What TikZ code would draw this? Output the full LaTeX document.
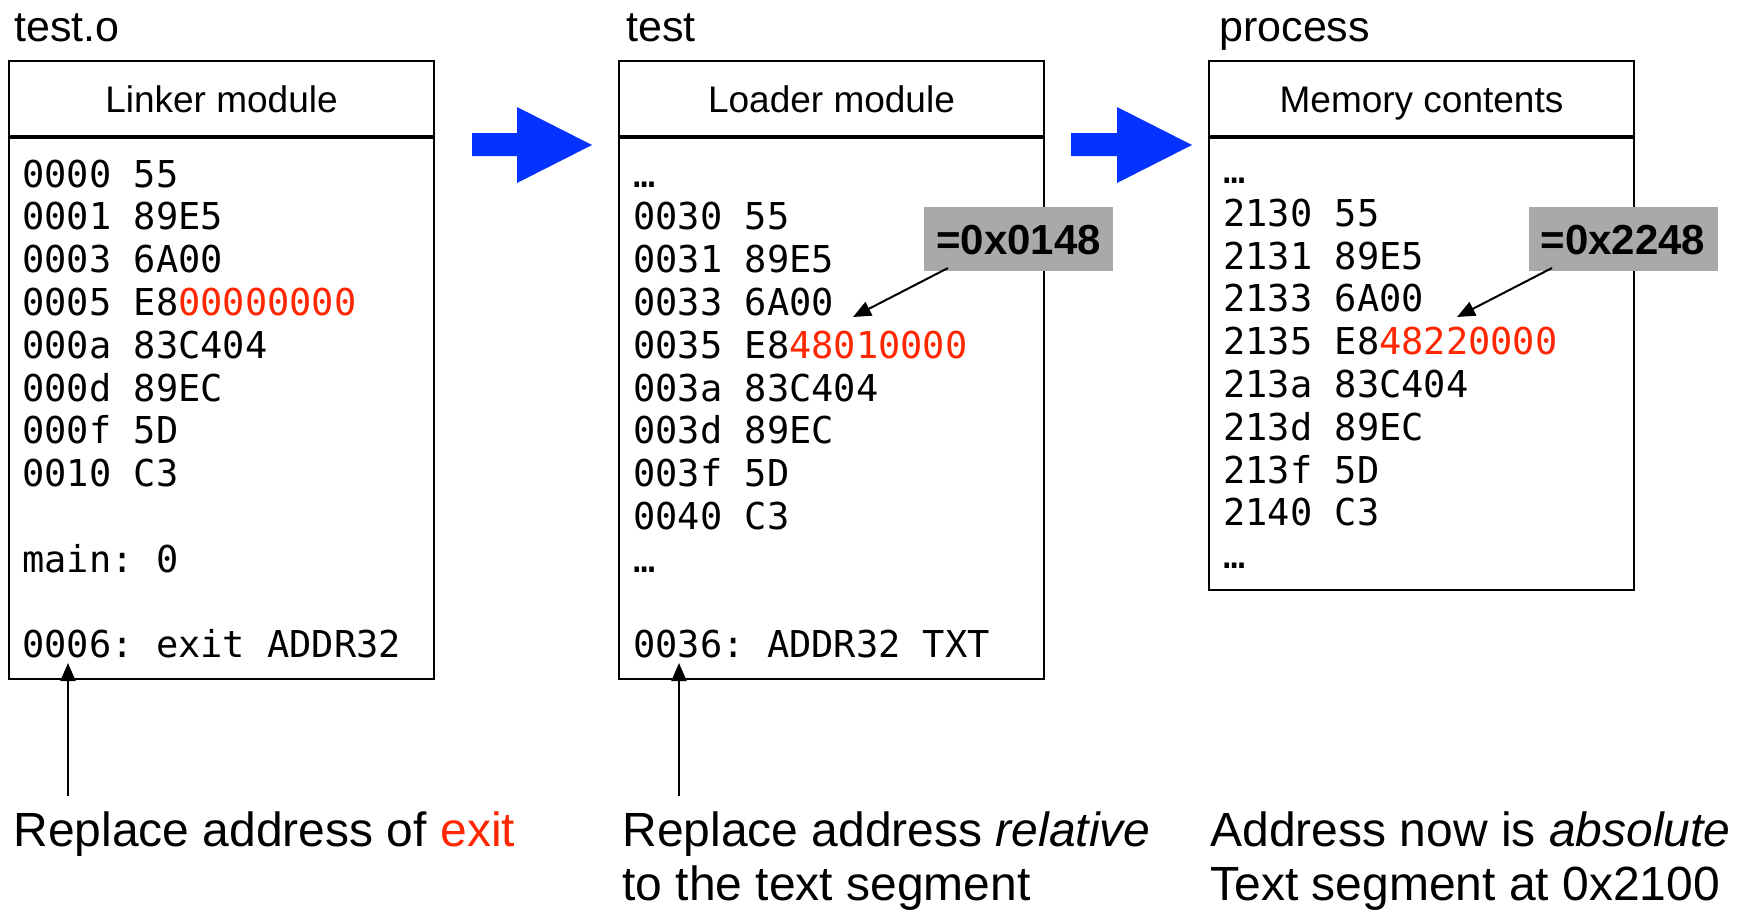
\documentclass[tikz,border=0pt]{standalone}
\usepackage{fontspec}
\setmainfont{Liberation Sans}
\setmonofont{DejaVu Sans Mono}
\usetikzlibrary{arrows.meta}
\definecolor{hotred}{RGB}{255,38,0}
\definecolor{flowblue}{RGB}{4,51,255}
\definecolor{tagGray}{RGB}{169,169,169}

\begin{document}
\begin{tikzpicture}[x=0.5pt,y=-0.5pt,
  title/.style={anchor=base west, inner sep=0pt, font=\fontsize{21.5}{25}\selectfont},
  hdr/.style={draw, line width=1.25pt, outer sep=0pt, minimum width=212.5pt, minimum height=38pt,
    inner sep=0pt, text height=13.25pt, text depth=0pt, font=\fontsize{18.5}{22}\selectfont},
  body/.style={draw, line width=1.25pt, outer sep=0pt, minimum width=212.5pt, anchor=north, inner sep=0pt},
  sep/.style={line width=2.4pt},
  code/.style={anchor=base west, inner sep=0pt, font=\ttfamily\fontsize{18.5}{21.5}\selectfont},
  tag/.style={fill=tagGray, minimum width=94.5pt, minimum height=32pt, inner sep=0pt,
    text height=15pt, text depth=0pt, font=\bfseries\fontsize{21}{25}\selectfont},
  note/.style={anchor=base west, inner sep=0pt, font=\fontsize{24}{28}\selectfont},
  pointer/.style={line width=1pt, -{Triangle[length=9pt,width=7.5pt]}},
  fatarrow/.style={fill=flowblue}]
\useasboundingbox (0,0) rectangle (1742,910);

% column titles
\node[title] (t1) at (14,41) {test.o};
\node[title] (t2) at (626,41) {test};
\node[title] (t3) at (1219,41) {process};

% linker module
\node[hdr] (lkh) at (221.5,99) {Linker module};
\node[body, minimum height=271pt] (lkb) at (lkh.south) {};
\draw[sep] (lkh.south west) -- (lkh.south east);

% loader module
\node[hdr] (ldh) at (831.5,99) {Loader module};
\node[body, minimum height=271pt] (ldb) at (ldh.south) {};
\draw[sep] (ldh.south west) -- (ldh.south east);

% memory contents
\node[hdr] (mmh) at (1421.5,99) {Memory contents};
\node[body, minimum height=226.5pt] (mmb) at (mmh.south) {};
\draw[sep] (mmh.south west) -- (mmh.south east);

% code listings
\foreach \i/\txt in {0/{0000 55}, 1/{0001 89E5}, 2/{0003 6A00},
    3/{0005 E8\textcolor{hotred}{00000000}}, 4/{000a 83C404}, 5/{000d 89EC},
    6/{000f 5D}, 7/{0010 C3}, 9/{main: 0}, 11/{0006: exit ADDR32}}
  \node[code] (lk\i) at (22,187+42.8*\i) {\txt};

\foreach \i/\txt in {0/{…}, 1/{0030 55}, 2/{0031 89E5}, 3/{0033 6A00},
    4/{0035 E8\textcolor{hotred}{48010000}}, 5/{003a 83C404}, 6/{003d 89EC},
    7/{003f 5D}, 8/{0040 C3}, 9/{…}, 11/{0036: ADDR32 TXT}}
  \node[code] (ld\i) at (633,187+42.8*\i) {\txt};

\foreach \i/\txt in {0/{…}, 1/{2130 55}, 2/{2131 89E5}, 3/{2133 6A00},
    4/{2135 E8\textcolor{hotred}{48220000}}, 5/{213a 83C404}, 6/{213d 89EC},
    7/{213f 5D}, 8/{2140 C3}, 9/{…}}
  \node[code] (mm\i) at (1223,183.5+42.8*\i) {\txt};

% blue flow arrows
\fill[fatarrow] (472,133) -- (517,133) -- (517,107) -- (592,145) -- (517,183) -- (517,156) -- (472,156) -- cycle;
\fill[fatarrow] (1071,133) -- (1117,133) -- (1117,107) -- (1192,145) -- (1117,183) -- (1117,156) -- (1071,156) -- cycle;

% resolved offsets
\node[tag] (tag1) at (1018.5,239) {=0x0148};
\node[tag] (tag2) at (1623,239) {=0x2248};
\coordinate (c1s) at (948,268);
\coordinate (c1e) at (853,317);
\coordinate (c2s) at (1552,268);
\coordinate (c2e) at (1457,317);
\draw[pointer] (c1s) -- (c1e);
\draw[pointer] (c2s) -- (c2e);

% pointers to relocation entries
\coordinate (v1b) at (68,796);
\coordinate (v1t) at (68,663);
\coordinate (v2b) at (679,796);
\coordinate (v2t) at (679,663);
\draw[pointer] (v1b) -- (v1t);
\draw[pointer] (v2b) -- (v2t);

% notes
\node[note] (n1) at (13,846) {Replace address of \textcolor{hotred}{exit}};
\node[note] (n2a) at (622,846) {Replace address \textit{relative}};
\node[note] (n2b) at (622,900) {to the text segment};
\node[note] (n3a) at (1210,846) {Address now is \textit{absolute}};
\node[note] (n3b) at (1210,900) {Text segment at 0x2100};
\end{tikzpicture}
\end{document}
